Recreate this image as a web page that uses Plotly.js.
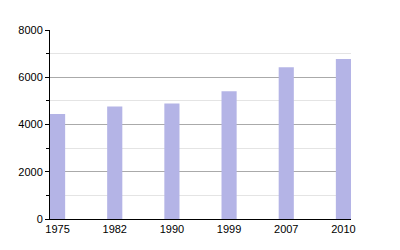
<!DOCTYPE html>
<html><head><meta charset="utf-8">
<script src="https://cdn.plot.ly/plotly-3.0.1.min.js"></script>
<style>html,body{margin:0;padding:0;background:#fff}</style>
</head><body>
<div id="chart" style="width:400px;height:250px"></div>
<script>
const years = ['1975','1982','1990','1999','2007','2010'];
const values = [4440, 4757, 4884, 5404, 6419, 6774];
const yTicks = [0, 2000, 4000, 6000, 8000];

Plotly.newPlot('chart', [{
  type: 'bar',
  x: years,
  y: values,
  width: 0.265,
  marker: {color: '#b4b4e6', line: {width: 0}},
  hoverinfo: 'none'
}], {
  width: 400, height: 250,
  margin: {l: 50, r: 49, t: 30, b: 30.5, pad: 0},
  paper_bgcolor: '#fff', plot_bgcolor: '#fff',
  showlegend: false,
  font: {family: 'Liberation Sans, Arial, sans-serif', size: 11, color: '#000'},
  xaxis: {
    type: 'category',
    range: [-0.1325, 5.1325],
    showgrid: false, showline: true, linecolor: '#000', linewidth: 1,
    ticks: '', tickfont: {size: 11}, zeroline: false
  },
  yaxis: {
    range: [0, 8000],
    tickvals: yTicks,
    ticks: 'outside', ticklen: 4, tickcolor: '#000',
    showline: true, linecolor: '#000', linewidth: 1,
    gridcolor: '#aaaaaa', gridwidth: 1,
    zeroline: false,
    tickfont: {size: 11},
    minor: {dtick: 1000, showgrid: true, gridcolor: '#e4e4e4', ticks: 'outside', ticklen: 3, tickcolor: '#000'}
  }
}, {staticPlot: true, displayModeBar: false});
</script>
</body></html>
